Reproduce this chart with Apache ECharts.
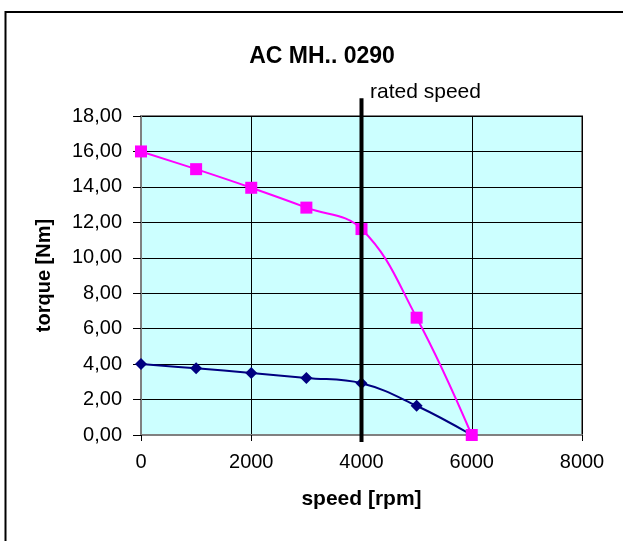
<!DOCTYPE html>
<html>
<head>
<meta charset="utf-8">
<script src="https://cdn.jsdelivr.net/npm/echarts@6/dist/echarts.min.js"></script>
<style>
html,body{margin:0;padding:0;background:#fff;}
#c{width:623px;height:541px;}
</style>
</head>
<body>
<div id="c"></div>
<script>
var speeds = [0, 1000, 2000, 3000, 4000, 5000, 6000];
var torqueMax = [16.0, 15.0, 13.95, 12.83, 11.62, 6.62, 0.0];
var torqueRated = [4.0, 3.76, 3.5, 3.22, 2.92, 1.65, 0.0];
var ratedSpeed = 4000;
var ratedLineRange = [-0.4, 19.0];
var ratedLabel = 'rated speed';
var titleText = 'AC MH.. 0290';
var xName = 'speed [rpm]';
var yName = 'torque [Nm]';

var FONT = '"Liberation Sans", Arial, sans-serif';
function pairs(xs, ys){ return xs.map(function(x,i){ return [x, ys[i]]; }); }

var chart = echarts.init(document.getElementById('c'));
chart.setOption({
  backgroundColor: '#ffffff',
  animation: false,
  textStyle: { fontFamily: FONT },
  title: {
    text: titleText,
    left: 317, top: 40, textAlign: 'center',
    textStyle: { fontFamily: FONT, fontSize: 23, fontWeight: 'bold', color: '#000' }
  },
  graphic: [{
    type: 'rect', silent: true,
    shape: { x: 5.5, y: 12, width: 700, height: 700 },
    style: { fill: 'none', stroke: '#000', lineWidth: 2 }
  }],
  grid: {
    left: 141, right: 41, top: 116, bottom: 106,
    show: true, backgroundColor: '#CCFFFF', borderColor: '#808080', borderWidth: 2
  },
  xAxis: {
    type: 'value', min: 0, max: 8000, interval: 2000,
    name: xName, nameLocation: 'middle', nameGap: 54,
    nameTextStyle: { fontFamily: FONT, fontSize: 21, fontWeight: 'bold', color: '#000' },
    axisLine: { show: true, onZero: false, lineStyle: { color: '#808080', width: 2 } },
    axisTick: { show: true, length: 6, lineStyle: { color: '#000', width: 1 } },
    axisLabel: { margin: 17, fontFamily: FONT, fontSize: 20, color: '#000',
      formatter: function(v){ return String(v); } },
    splitLine: { show: true, lineStyle: { color: '#000', width: 1 } }
  },
  yAxis: {
    type: 'value', min: 0, max: 18, interval: 2,
    name: yName, nameLocation: 'middle', nameGap: 87, nameRotate: 90,
    nameTextStyle: { fontFamily: FONT, fontSize: 20, fontWeight: 'bold', color: '#000' },
    axisLine: { show: true, onZero: false, lineStyle: { color: '#808080', width: 2 } },
    axisTick: { show: true, length: 8, lineStyle: { color: '#000', width: 1 } },
    axisLabel: { margin: 19, fontFamily: FONT, fontSize: 20, color: '#000',
      formatter: function(v){ return v.toFixed(2).replace('.', ','); } },
    splitLine: { show: true, lineStyle: { color: '#000', width: 1 } }
  },
  series: [
    {
      type: 'line', name: 'rated', data: pairs(speeds, torqueRated),
      smooth: 0.4, symbol: 'diamond', symbolSize: 12,
      lineStyle: { color: '#000080', width: 2 },
      itemStyle: { color: '#000080' }, z: 3
    },
    {
      type: 'line', name: 'max', data: pairs(speeds, torqueMax),
      smooth: 0.4, symbol: 'rect', symbolSize: 12,
      lineStyle: { color: '#FF00FF', width: 2 },
      itemStyle: { color: '#FF00FF' }, z: 3
    },
    {
      type: 'line', name: 'ratedSpeed', clip: false,
      data: [
        { value: [ratedSpeed, ratedLineRange[0]] },
        { value: [ratedSpeed, ratedLineRange[1]],
          label: { show: true, formatter: ratedLabel, position: 'right', distance: 8, offset: [0, -6],
                   fontFamily: FONT, fontSize: 21, color: '#000' } }
      ],
      symbol: 'circle', symbolSize: 1, showSymbol: true,
      itemStyle: { color: 'rgba(0,0,0,0)', borderWidth: 0 },
      lineStyle: { color: '#000', width: 4 }, z: 4
    }
  ]
});
</script>
</body>
</html>
